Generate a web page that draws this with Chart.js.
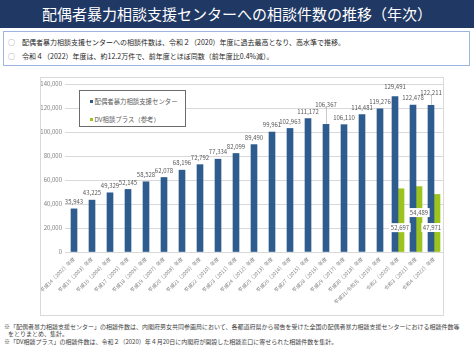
<!DOCTYPE html>
<html lang="ja">
<head>
<meta charset="utf-8">
<script src="https://cdn.jsdelivr.net/npm/chart.js@4/dist/chart.umd.min.js"></script>
<style>
html,body{margin:0;padding:0;background:#fff;}
body{width:474px;height:355px;position:relative;overflow:hidden;font-family:"Noto Sans CJK JP","Noto Sans",sans-serif;}
#title{position:absolute;left:0;top:0;width:474px;height:28px;background:#1F3864;color:#fff;font-size:15px;line-height:28px;text-align:center;letter-spacing:0;}
#box{position:absolute;left:3px;top:31px;width:467px;height:35px;box-sizing:border-box;border:1.5px solid #9DB5DE;}
.pt{position:absolute;font-size:7px;line-height:9px;color:#262626;white-space:nowrap;}
.ci{position:absolute;font-size:7px;line-height:9px;color:#808080;}
#frame{position:absolute;left:40px;top:77px;width:404px;height:239px;box-sizing:border-box;border:1px solid #D9D9D9;pointer-events:none;}
#wrap{position:absolute;left:0;top:77px;width:444px;height:239px;}
#legend{position:absolute;left:79px;top:90px;width:107px;height:37px;box-sizing:border-box;border:1px solid #6b6b6b;background:#fff;}
.li{position:absolute;left:10px;font-size:6.4px;line-height:8px;color:#595959;white-space:nowrap;}
.li i{display:inline-block;width:3px;height:3px;margin-right:1.5px;vertical-align:1px;}
#notes{position:absolute;left:4px;top:323px;font-size:6px;line-height:7.3px;color:#404040;white-space:nowrap;font-family:"Noto Sans CJK JP",sans-serif;}
</style>
</head>
<body>
<div id="title">配偶者暴力相談支援センターへの相談件数の推移（年次）</div>
<div id="box">
  <span class="ci" style="left:4px;top:6px;">○</span>
  <span class="pt" style="left:18px;top:6px;">配偶者暴力相談支援センターへの相談件数は、令和２（2020）年度に過去最高となり、高水準で推移。</span>
  <span class="ci" style="left:4px;top:20px;">○</span>
  <span class="pt" style="left:18px;top:20px;">令和４（2022）年度は、約12.2万件で、前年度とほぼ同数（前年度比0.4%減）。</span>
</div>
<div id="wrap"><canvas id="c" width="444" height="239"></canvas></div>
<div id="frame"></div>
<div id="legend"></div>
<div id="notes">※「配偶者暴力相談支援センター」の相談件数は、内閣府男女共同参画局において、各都道府県から報告を受けた全国の配偶者暴力相談支援センターにおける相談件数等<br>&nbsp;&nbsp;&nbsp;をとりまとめ、集計。<br>※「DV相談プラス」の相談件数は、令和２（2020）年４月20日に内閣府が開設した相談窓口に寄せられた相談件数を集計。</div>
<script>
const categories = [
  '平成14（2002）年度','平成15（2003）年度','平成16（2004）年度','平成17（2005）年度',
  '平成18（2006）年度','平成19（2007）年度','平成20（2008）年度','平成21（2009）年度',
  '平成22（2010）年度','平成23（2011）年度','平成24（2012）年度','平成25（2013）年度',
  '平成26（2014）年度','平成27（2015）年度','平成28（2016）年度','平成29（2017）年度',
  '平成30（2018）年度','平成31/令和元（2019）年度','令和2（2020）年度','令和3（2021）年度',
  '令和4（2022）年度'
];
const centerCounts = [35943, 43225, 49329, 52145, 58528, 62078, 68196, 72792, 77334, 82099,
  89490, 99961, 102963, 111172, 106367, 106110, 114481, 119276, 129491, 122478, 122211];
const dvCounts = [null, null, null, null, null, null, null, null, null, null,
  null, null, null, null, null, null, null, null, 52697, 54489, 47971];
const seriesNames = ['配偶者暴力相談支援センター', 'DV相談プラス（参考）'];
const yTickValues = [0, 20000, 40000, 60000, 80000, 100000, 120000, 140000];

const BLUE = '#2E5C8E', GREEN = '#9DC31F';
const FONT = '"Noto Sans CJK JP", "Noto Sans", sans-serif';
const fmt = v => v.toLocaleString('en-US');

const barLabels = {
  id: 'barLabels',
  afterDatasetsDraw(chart, args, opts) {
    const ctx = chart.ctx;
    ctx.save();
    ctx.font = '6px ' + FONT;
    ctx.textAlign = 'center';
    ctx.textBaseline = 'middle';
    const m0 = chart.getDatasetMeta(0);
    m0.data.forEach((el, i) => {
      const v = chart.data.datasets[0].data[i];
      const lift = opts.lift[i] !== undefined ? opts.lift[i] : opts.gap;
      const y = el.y - lift;
      if (lift > opts.gap + 3) {
        ctx.strokeStyle = '#a6a6a6';
        ctx.lineWidth = 0.6;
        ctx.beginPath();
        ctx.moveTo(el.x + 0.5, y + 3.5);
        ctx.lineTo(el.x + 0.5, el.y - 0.5);
        ctx.stroke();
      }
      ctx.fillStyle = '#595959';
      ctx.fillText(fmt(v), el.x, y);
    });
    const m1 = chart.getDatasetMeta(1);
    m1.data.forEach((el, i) => {
      const v = chart.data.datasets[1].data[i];
      if (v === null || v === undefined) return;
      const f = opts.dvPos[i] !== undefined ? opts.dvPos[i] : 0.5;
      const dx = opts.dvShift[i] !== undefined ? opts.dvShift[i] : 0;
      const y = el.y + (el.base - el.y) * f;
      const t = fmt(v);
      const w = ctx.measureText(t).width + 3;
      ctx.fillStyle = '#fff';
      ctx.fillRect(el.x + dx - w / 2, y - 4.5, w, 9);
      ctx.fillStyle = '#595959';
      ctx.fillText(t, el.x + dx, y);
    });
    ctx.restore();
  }
};

const chart = new Chart(document.getElementById('c'), {
  type: 'bar',
  data: {
    labels: categories,
    datasets: [
      { label: seriesNames[0], data: centerCounts, backgroundColor: BLUE, barThickness: 6, skipNull: true },
      { label: seriesNames[1], data: dvCounts, backgroundColor: GREEN, barThickness: 6, skipNull: true }
    ]
  },
  options: {
    responsive: false,
    animation: false,
    devicePixelRatio: 1,
    layout: { padding: { top: 7, right: 1, left: 0, bottom: 0 } },
    plugins: {
      legend: { display: false },
      tooltip: { enabled: false },
      barLabels: {
        gap: 7,
        lift: { 14: 20, 18: 10, 20: 13 },
        dvPos: { 18: 0.62, 19: 0.4, 20: 0.58 },
        dvShift: { 18: -1, 20: -5 }
      }
    },
    scales: {
      x: {
        grid: { display: false, drawTicks: false },
        border: { display: true, color: '#D9D9D9' },
        ticks: {
          autoSkip: false, minRotation: 45, maxRotation: 45, padding: 4,
          color: '#7F7F7F', font: { size: 5, family: FONT }
        },
        afterFit: s => { s.height = 64; }
      },
      y: {
        min: 0, max: 140000,
        afterBuildTicks: s => { s.ticks = yTickValues.map(v => ({ value: v })); },
        grid: { color: '#D9D9D9', drawTicks: false },
        border: { display: false },
        ticks: {
          padding: 3, color: '#7F7F7F', font: { size: 6, family: FONT },
          callback: v => fmt(v)
        },
        afterFit: s => { s.width = 65; }
      }
    }
  },
  plugins: [barLabels]
});

const lg = document.getElementById('legend');
chart.data.datasets.forEach((ds, i) => {
  const d = document.createElement('div');
  d.className = 'li';
  d.style.top = (i === 0 ? 7 : 25) + 'px';
  d.innerHTML = '<i style="background:' + ds.backgroundColor + '"></i>' + ds.label;
  lg.appendChild(d);
});
</script>
</body>
</html>
